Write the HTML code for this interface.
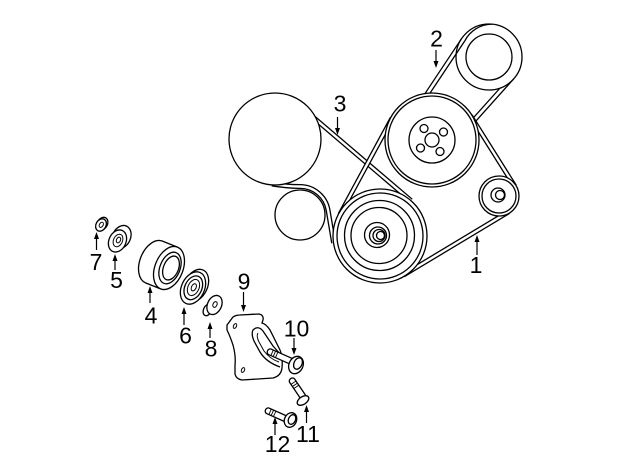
<!DOCTYPE html>
<html><head><meta charset="utf-8"><style>
html,body{margin:0;padding:0;background:#fff;}
svg{display:block;}
text{font-family:"Liberation Sans",Arial,sans-serif;font-size:23px;fill:#000;}
</style></head><body>
<svg width="640" height="471" viewBox="0 0 640 471" xmlns="http://www.w3.org/2000/svg">
<rect width="640" height="471" fill="#fff"/>
<g fill="none" stroke="#000" stroke-width="1.3">
<!-- Belt 2 -->
<circle cx="489" cy="57" r="33"/>
<line x1="461.5" y1="38.7" x2="419.9" y2="101.2"/>
<line x1="464.8" y1="40.9" x2="423.2" y2="103.4"/>
<path d="M464.8,40.9 A31 31 0 0 1 492,24.1"/>
<line x1="513.6" y1="79" x2="470.2" y2="127.4"/>
<line x1="500.1" y1="88" x2="467.2" y2="124.7"/>
<circle cx="489" cy="57" r="23"/>
<!-- Belt 3 -->
<path d="M296.9,103.4 L411,200.6" stroke-width="5"/>
<path d="M296.9,103.4 L411,200.6" stroke="#fff" stroke-width="2.4"/>
<path d="M272,184 C284,186 292,186.5 300,186.5 A28.5 28.5 0 0 1 328.1,210.3 L333.6,243" stroke-width="5"/>
<path d="M272,184 C284,186 292,186.5 300,186.5 A28.5 28.5 0 0 1 328.1,210.3 L333.6,243" stroke="#fff" stroke-width="2.4"/>
<!-- Belt 1 -->
<path d="M340,214.3 L392,118.3 M470.5,115.8 L514.7,186.2 M403.5,275 L508.5,211.9" stroke-width="5"/>
<path d="M340,214.3 L392,118.3 M470.5,115.8 L514.7,186.2 M403.5,275 L508.5,211.9" stroke="#fff" stroke-width="2.4"/>
<!-- Pulleys -->
<circle cx="275" cy="139" r="46" fill="#fff"/>
<circle cx="300" cy="215" r="25" fill="#fff"/>
<circle cx="380" cy="236" r="47" fill="#fff"/>
<circle cx="380" cy="236" r="43"/>
<circle cx="379.5" cy="235.5" r="35"/>
<circle cx="379" cy="235.5" r="28"/>
<circle cx="377" cy="235" r="12.5"/>
<circle cx="378" cy="235.5" r="8.5"/>
<circle cx="379" cy="235.5" r="6"/>
<circle cx="380.5" cy="235.5" r="4"/>
<circle cx="432" cy="140" r="47" fill="#fff"/>
<circle cx="432" cy="140" r="44"/>
<circle cx="432" cy="140" r="23"/>
<circle cx="432" cy="140" r="7"/>
<circle cx="424" cy="128.5" r="4"/>
<circle cx="443.5" cy="132" r="4"/>
<circle cx="440" cy="151.5" r="4"/>
<circle cx="420.5" cy="148" r="4"/>
<circle cx="499" cy="196" r="20" fill="#fff"/>
<circle cx="499" cy="196" r="17"/>
<circle cx="498" cy="195" r="7"/>
<circle cx="500" cy="195" r="4.5"/>

<!-- Part 7 -->
<ellipse cx="102.5" cy="223.5" rx="5" ry="6.5" transform="rotate(30 102.5 223.5)" fill="#fff"/>
<ellipse cx="101" cy="225" rx="5" ry="6.5" transform="rotate(30 101 225)" fill="#fff"/>
<ellipse cx="101.3" cy="224.8" rx="1.8" ry="2.8" transform="rotate(30 101.3 224.8)" stroke-width="1"/>
<!-- Part 5 -->
<ellipse cx="121.5" cy="237" rx="9" ry="12" transform="rotate(25 121.5 237)" fill="#fff"/>
<ellipse cx="117.5" cy="241" rx="8.5" ry="11.5" transform="rotate(25 117.5 241)" fill="#fff"/>
<ellipse cx="118" cy="240.5" rx="4.5" ry="6.5" transform="rotate(25 118 240.5)" stroke-width="1"/>
<ellipse cx="118.5" cy="240" rx="2" ry="3" transform="rotate(25 118.5 240)" stroke-width="1"/>
<!-- Part 4 -->
<ellipse cx="154" cy="262" rx="14" ry="22.5" transform="rotate(22 154 262)" fill="#fff"/>
<polygon points="145.57,282.86 162.43,241.14 177.43,247.14 160.57,288.86" fill="#fff" stroke="none"/>
<line x1="162.43" y1="241.14" x2="177.43" y2="247.14"/>
<line x1="145.57" y1="282.86" x2="160.57" y2="288.86"/>
<ellipse cx="169" cy="268" rx="14" ry="22.5" transform="rotate(22 169 268)" fill="#fff"/>
<ellipse cx="170" cy="268" rx="10" ry="16.5" transform="rotate(22 170 268)"/>
<ellipse cx="171" cy="268" rx="7.5" ry="12.5" transform="rotate(22 171 268)"/>
<!-- Part 6 -->
<ellipse cx="196" cy="285.5" rx="11.5" ry="17" transform="rotate(25 196 285.5)" fill="#fff"/>
<ellipse cx="193" cy="288" rx="11.5" ry="17" transform="rotate(25 193 288)" fill="#fff"/>
<ellipse cx="193.3" cy="287.8" rx="8.5" ry="12.5" transform="rotate(25 193.3 287.8)"/>
<ellipse cx="193.5" cy="287.5" rx="5.5" ry="8.5" transform="rotate(25 193.5 287.5)" stroke-width="1"/>
<ellipse cx="193.8" cy="287.3" rx="2.3" ry="3.8" transform="rotate(25 193.8 287.3)" stroke-width="1"/>
<!-- Part 8 -->
<ellipse cx="207.5" cy="310" rx="4" ry="6" transform="rotate(25 207.5 310)" fill="#fff"/>
<ellipse cx="214.5" cy="305" rx="7" ry="10" transform="rotate(25 214.5 305)" fill="#fff"/>
<ellipse cx="215" cy="304.5" rx="2" ry="3" transform="rotate(25 215 304.5)" stroke-width="1"/>

<!-- Bracket 9 -->
<path d="M227,325 L233,317 Q236,315 240,315 L259,314 Q264,315 263,320 L262,323 Q266,324 270,330 L280,350 Q283,357 282,368 Q281,376 273,378 L242,380 Q236,379 235,374 L235,365 Q236,356 233,345 Q230,336 227,330 Z" fill="#fff"/>
<path d="M282,356 L273,346 L263,331 Q258,325 253,330 Q251,334 254,341 L260,352 Q266,362 280,367"/>
<path d="M258,333 Q256,336 259,342 L264,351 Q270,359 279,362" stroke-width="1"/>
<ellipse cx="235" cy="326" rx="1.5" ry="2.5" transform="rotate(25 235 326)" stroke-width="1"/>
<ellipse cx="243" cy="370" rx="1.5" ry="2.5" transform="rotate(25 243 370)" stroke-width="1"/>

<!-- Bolt 10 -->
<g transform="translate(268,351) rotate(24)">
<path d="M2,-3 L26,-3 L26,3 L2,3 A2.5 3 0 0 1 2,-3 Z" fill="#fff"/>
<path d="M4.5,-3 L4.5,3 M7,-3 L7,3 M9.5,-3 L9.5,3" stroke-width="0.9"/>
</g>
<ellipse cx="296" cy="365" rx="7" ry="9" transform="rotate(25 296 365)" fill="#fff"/>
<ellipse cx="298" cy="363.5" rx="4" ry="6" transform="rotate(25 298 363.5)"/>
<!-- Bolt 11 -->
<g transform="translate(291,379) rotate(56)">
<path d="M2,-3 L24,-3 L24,3 L2,3 A2.5 3 0 0 1 2,-3 Z" fill="#fff"/>
<path d="M4.5,-3 L4.5,3 M7,-3 L7,3 M9.5,-3 L9.5,3" stroke-width="0.9"/>
</g>
<ellipse cx="303" cy="400.5" rx="6.5" ry="3.8" transform="rotate(-34 303 400.5)" fill="#fff"/>
<!-- Bolt 12 -->
<g transform="translate(266,410) rotate(24)">
<path d="M2,-3 L23,-3 L23,3 L2,3 A2.5 3 0 0 1 2,-3 Z" fill="#fff"/>
<path d="M4.5,-3 L4.5,3 M7,-3 L7,3 M9.5,-3 L9.5,3" stroke-width="0.9"/>
</g>
<ellipse cx="290.5" cy="420" rx="6" ry="7.5" transform="rotate(24 290.5 420)" fill="#fff"/>
<ellipse cx="292" cy="419.5" rx="3.5" ry="5" transform="rotate(24 292 419.5)"/>
</g>

<!-- Arrows -->
<g stroke="#000" stroke-width="1.2">
<line x1="477" y1="240" x2="477" y2="255"/>
<line x1="150" y1="291" x2="150" y2="303"/>
<line x1="115" y1="259" x2="115" y2="270"/>
<line x1="184" y1="312" x2="184" y2="325"/>
<line x1="96.5" y1="237" x2="96.5" y2="250"/>
<line x1="210" y1="327" x2="210" y2="338"/>
<line x1="306.5" y1="410" x2="306.5" y2="423"/>
<line x1="275" y1="422" x2="275" y2="435"/>
<line x1="436" y1="50" x2="436" y2="63"/>
<line x1="337.5" y1="117" x2="337.5" y2="130"/>
<line x1="243.5" y1="292" x2="243.5" y2="307"/>
<line x1="294" y1="338" x2="294" y2="350"/>
</g>
<g fill="#000">
<polygon points="477,235 474.5,242 479.5,242"/>
<polygon points="150,286 147.5,293 152.5,293"/>
<polygon points="115,254 112.5,261 117.5,261"/>
<polygon points="184,307 181.5,314 186.5,314"/>
<polygon points="96.5,232 94,239 99,239"/>
<polygon points="210,322 207.5,329 212.5,329"/>
<polygon points="306.5,405 304,412 309,412"/>
<polygon points="275,417 272.5,424 277.5,424"/>
<polygon points="436,68 433.5,61 438.5,61"/>
<polygon points="337.5,135 335,128 340,128"/>
<polygon points="243.5,312 241,305 246,305"/>
<polygon points="294,355 291.5,348 296.5,348"/>
</g>

<!-- Labels -->
<text x="476" y="273" text-anchor="middle">1</text>
<text x="436.5" y="46.5" text-anchor="middle">2</text>
<text x="340" y="111.5" text-anchor="middle">3</text>
<text x="151" y="323.5" text-anchor="middle">4</text>
<text x="116.5" y="288" text-anchor="middle">5</text>
<text x="185.5" y="343.5" text-anchor="middle">6</text>
<text x="96" y="270" text-anchor="middle">7</text>
<text x="211" y="356.5" text-anchor="middle">8</text>
<text x="244" y="289.5" text-anchor="middle">9</text>
<text x="296.5" y="336.5" text-anchor="middle">10</text>
<text x="308" y="442" text-anchor="middle">11</text>
<text x="277.5" y="452" text-anchor="middle">12</text>
</svg>
</body></html>
